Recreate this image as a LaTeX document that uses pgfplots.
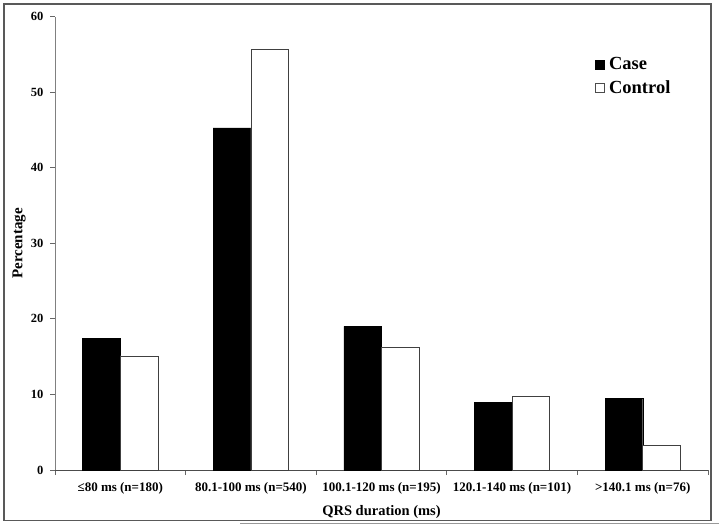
\documentclass[border=0pt]{standalone}
\usepackage{pgfplots}
\pgfplotsset{compat=1.18}
\usepackage{fontspec}
\setmainfont{Liberation Serif}
\pgfplotsset{
  sqcase/.style={legend image code/.code={\draw[black,fill=black] (0pt,-4.5pt) rectangle (9.5pt,4.5pt); \path (12pt,0pt);}},
  sqctrl/.style={legend image code/.code={\draw[black!70,fill=white,line width=0.6pt] (0pt,-4.5pt) rectangle (9.5pt,4.5pt); \path (12pt,0pt);}},
}
\begin{document}
\begin{tikzpicture}[x=1pt,y=1pt]
\path[use as bounding box] (0,0) rectangle (719,524);
\draw[black!65, line width=1.3pt] (4,3.5) rectangle (711,520);
\draw[black!40, line width=1pt] (240,0.8) -- (719,0.8);
\begin{axis}[
  at={(55pt,54pt)}, anchor=south west,
  scale only axis, width=653pt, height=453.3pt,
  xmin=-0.5, xmax=4.5, ymin=0, ymax=60,
  axis x line*=bottom, axis y line*=left,
  x axis line style={black!70, line width=1pt},
  y axis line style={black!50, line width=1pt},
  tick align=outside,
  ytick={0,10,...,60},
  xtick={0,1,2,3,4},
  xticklabels={{≤80 ms (n=180)},{80.1-100 ms (n=540)},{100.1-120 ms (n=195)},{120.1-140 ms (n=101)},{>140.1 ms (n=76)}},
  minor xtick={-0.5,0.5,1.5,2.5,3.5,4.5},
  major x tick style={draw=none},
  minor x tick style={black!60, line width=0.8pt},
  major y tick style={black!60, line width=0.8pt},
  major tick length=5pt, minor tick length=5pt,
  /pgf/number format/assume math mode=true,
  yticklabel style={font=\fontsize{12.5}{12}\selectfont\bfseries, xshift=-3pt},
  xticklabel style={font=\fontsize{13}{13}\selectfont\bfseries, yshift=-4pt},
  xlabel={QRS duration (ms)}, ylabel={Percentage},
  xlabel style={font=\fontsize{14.5}{15}\selectfont\bfseries, at={(axis description cs:0.5,-0.0927)}, anchor=center},
  ylabel style={font=\fontsize{15}{15}\selectfont\bfseries, at={(axis description cs:-0.0551,0.5)}, anchor=center},
  legend style={at={(0.826,0.915)}, anchor=north west, draw=none, fill=none,
    font=\fontsize{18.5}{20}\selectfont\bfseries, row sep=5pt, inner sep=0pt,
    nodes={inner sep=2pt}},
  legend cell align=left,
]
\addplot[ybar, bar width=37.7pt, bar shift=-18.85pt, fill=black, draw=black, forget plot] coordinates {(0,17.4) (1,45.3) (2,19.0) (3,9.0) (4,9.5)};
\addplot[ybar, bar width=37.7pt, bar shift=18.85pt, fill=white, draw=black!75, line width=0.8pt, forget plot] coordinates {(0,15.1) (1,55.7) (2,16.2) (3,9.8) (4,3.3)};
\addlegendimage{sqcase}
\addlegendentry{Case}
\addlegendimage{sqctrl}
\addlegendentry{Control}
\end{axis}
\end{tikzpicture}
\end{document}
